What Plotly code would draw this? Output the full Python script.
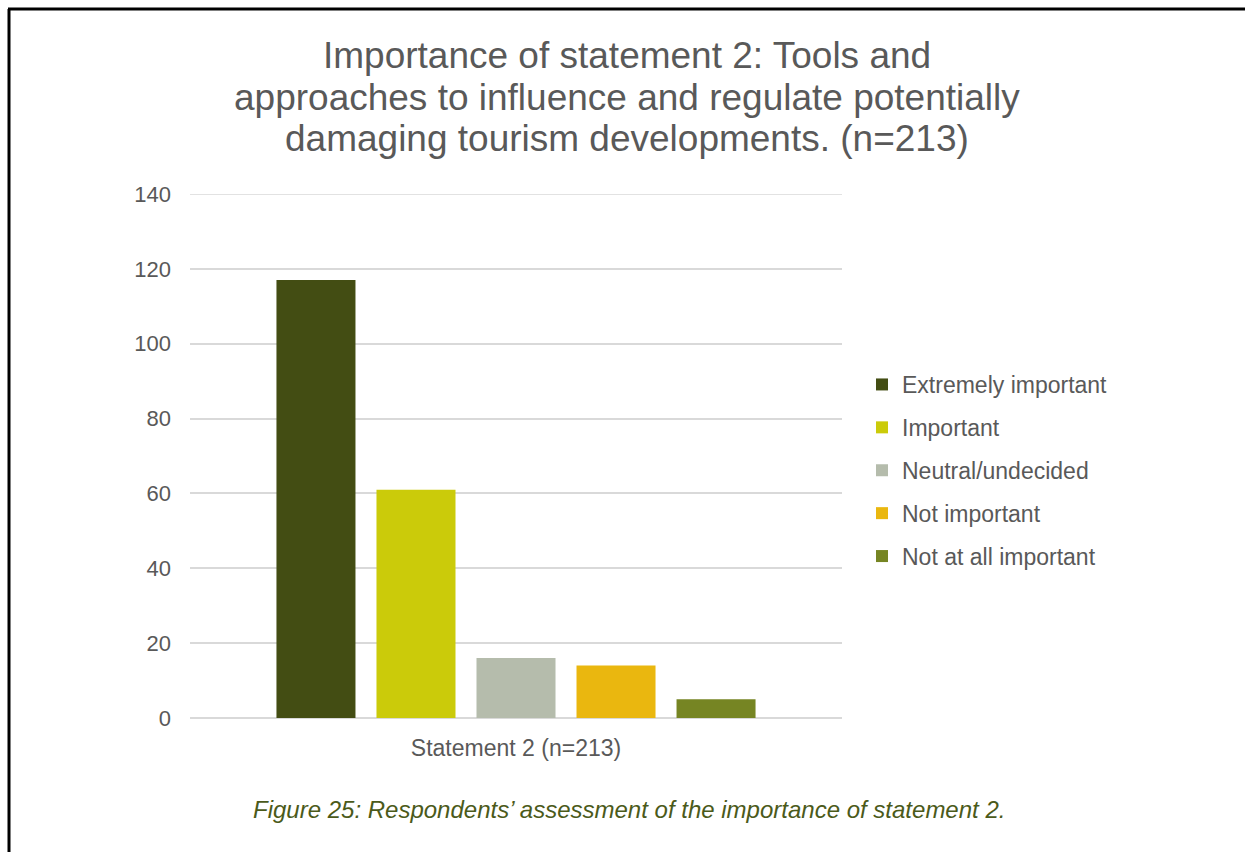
import plotly.graph_objects as go

# Survey responses for statement 2
category = ["Statement 2 (n=213)"]
responses = ["Extremely important", "Important", "Neutral/undecided",
             "Not important", "Not at all important"]
counts = [117, 61, 16, 14, 5]
colors = ["#434d13", "#cbcb0a", "#b5bcac", "#eab70f", "#768523"]

title_lines = [
    "Importance of statement 2: Tools and",
    "approaches to influence and regulate potentially",
    "damaging tourism developments. (n=213)",
]
caption = "Figure 25: Respondents\u2019 assessment of the importance of statement 2."
y_ticks = [0, 20, 40, 60, 80, 100, 120, 140]

W, H = 1245, 852
L, R, T, B = 190, 842, 194, 718  # plot area edges in pixels


def px_x(p):
    return (p - L) / (R - L)


def px_y(p):
    return (B - p) / (B - T)


FONT = "Liberation Sans, Arial, sans-serif"
GREY = "#595959"
GRID = "#d9d9d9"

fig = go.Figure()
for name, val, col in zip(responses, counts, colors):
    fig.add_trace(go.Bar(
        x=category, y=[val], name=name, legendgroup=name,
        marker=dict(color=col, line=dict(width=0)),
    ))

annotations = []
for i, line in enumerate(title_lines):
    annotations.append(dict(
        text=line, xref="paper", yref="paper",
        x=px_x(627), y=px_y(55 + 42 * i),
        xanchor="center", yanchor="middle", showarrow=False,
        font=dict(family=FONT, size=37, color=GREY),
    ))
annotations.append(dict(
    text="<i>" + caption + "</i>", xref="paper", yref="paper",
    x=px_x(629), y=px_y(809), xanchor="center", yanchor="middle",
    showarrow=False, font=dict(family=FONT, size=24, color="#4b5a1a"),
))

shapes = [
    # top gridline sits on the plot edge, so draw it explicitly
    dict(type="line", xref="paper", yref="y", layer="below",
         x0=0, x1=1, y0=y_ticks[-1], y1=y_ticks[-1],
         line=dict(color=GRID, width=1.5)),
    # page frame
    dict(type="line", xref="paper", yref="paper",
         x0=px_x(9), x1=px_x(9), y0=px_y(9), y1=px_y(H + 5),
         line=dict(color="black", width=3)),
    dict(type="line", xref="paper", yref="paper",
         x0=px_x(8), x1=px_x(W + 5), y0=px_y(9), y1=px_y(9),
         line=dict(color="black", width=3)),
]

fig.update_layout(
    width=W, height=H,
    margin=dict(l=L, r=W - R, t=T, b=H - B, autoexpand=False),
    paper_bgcolor="white", plot_bgcolor="white",
    barmode="group", bargap=0.233, bargroupgap=0.21,
    font=dict(family=FONT, size=23, color=GREY),
    showlegend=True,
    legend=dict(
        x=px_x(862), y=px_y(363), xanchor="left", yanchor="top",
        font=dict(family=FONT, size=23, color=GREY),
        tracegroupgap=10, bgcolor="rgba(0,0,0,0)",
    ),
    annotations=annotations,
    shapes=shapes,
)
fig.update_yaxes(
    range=[0, 140], tickvals=y_ticks, showgrid=True,
    gridcolor=GRID, gridwidth=1.5, zeroline=True,
    zerolinecolor=GRID, zerolinewidth=1.5, showline=False,
    ticks="", ticklabelstandoff=18,
    tickfont=dict(family=FONT, size=22, color=GREY),
)
fig.update_xaxes(
    showline=False, ticks="", ticklabelstandoff=14,
    tickfont=dict(family=FONT, size=23, color=GREY),
)

fig.write_html("out.html")
